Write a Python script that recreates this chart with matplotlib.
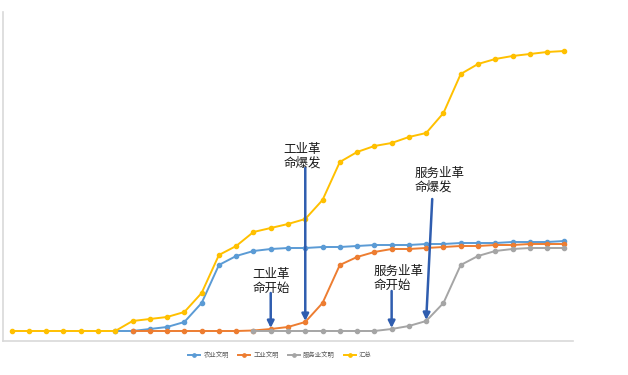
import numpy as np
import matplotlib.pyplot as plt

plt.rcParams['font.family'] = ['Noto Sans CJK SC', 'DejaVu Sans']

## 数据 (33 个时间点)
n = 33
nan = np.nan
nongye = [nan] * 6 + [0, 0, 2, 4, 9, 28, 66, 75, 80, 82, 83, 83, 84, 84, 85, 86,
                      86, 86, 87, 87, 88, 88, 88, 89, 89, 89, 90]
gongye = [nan] * 7 + [0, 0, 0, 0, 0, 0, 0, 0.5, 2, 4, 9, 28, 66, 74, 79, 82,
                      82, 83, 84, 85, 85, 86, 86, 87, 87, 87]
fuwu = [nan] * 14 + [0, 0, 0, 0, 0, 0, 0, 0, 2,
                     5, 10, 28, 66, 75, 80, 82, 83, 83, 83]
huizong = [0, 0, 0, 0, 0, 0, 0, 10, 12, 14, 19, 38, 76, 85, 99, 103, 107, 112,
           131, 169, 179, 185, 188, 194, 198, 218, 257, 267, 272, 275, 277, 279, 280]

series = [("农业文明", nongye, "#5B9BD5"),
          ("工业文明", gongye, "#ED7D31"),
          ("服务业文明", fuwu, "#A5A5A5"),
          ("汇总", huizong, "#FFC000")]

## 标注: 文字, 指向的系列, 指向的点, 文字位置, 箭尾位置
notes = [("工业革\n命爆发", gongye, 17, (15.75, 188), (17, 163)),
         ("工业革\n命开始", gongye, 15, (13.95, 63), (15, 38)),
         ("服务业革\n命爆发", fuwu, 24, (23.35, 164), (24.35, 132)),
         ("服务业革\n命开始", fuwu, 22, (20.95, 66), (22, 40))]

fig = plt.figure(figsize=(6.28, 3.75), dpi=100)
ax = fig.add_axes([3 / 628, 34 / 375, 570 / 628, 329 / 375])

x = np.arange(n)
for name, vals, col in series:
    ax.plot(x, vals, color=col, lw=1.4, marker='o', ms=3, label=name)

for txt, vals, i, tpos, tail in notes:
    ax.annotate('', xy=(i, vals[i] + 1), xytext=tail,
                arrowprops=dict(arrowstyle='-|>', color='#2F5DAF', lw=1.8,
                                mutation_scale=10, shrinkA=0, shrinkB=0))
    ax.text(tpos[0], tpos[1], txt, fontsize=9, color='#1a1a1a', ha='left', va='top',
            linespacing=1.05)

ax.set_xlim(-0.5, n - 0.5)
ax.set_ylim(-10, 319)
ax.set_xticks([])
ax.set_yticks([])
for s in ['top', 'right']:
    ax.spines[s].set_visible(False)
for s in ['left', 'bottom']:
    ax.spines[s].set_color('#d9d9d9')
    ax.spines[s].set_linewidth(1.2)

fig.legend(loc='center', bbox_to_anchor=(280 / 628, 1 - 355 / 375), ncol=4,
           frameon=False, fontsize=4.6, labelcolor='#595959', handlelength=1.9,
           handletextpad=0.5, columnspacing=1.4, markerscale=0.8)

plt.savefig('out.png', format='png')
